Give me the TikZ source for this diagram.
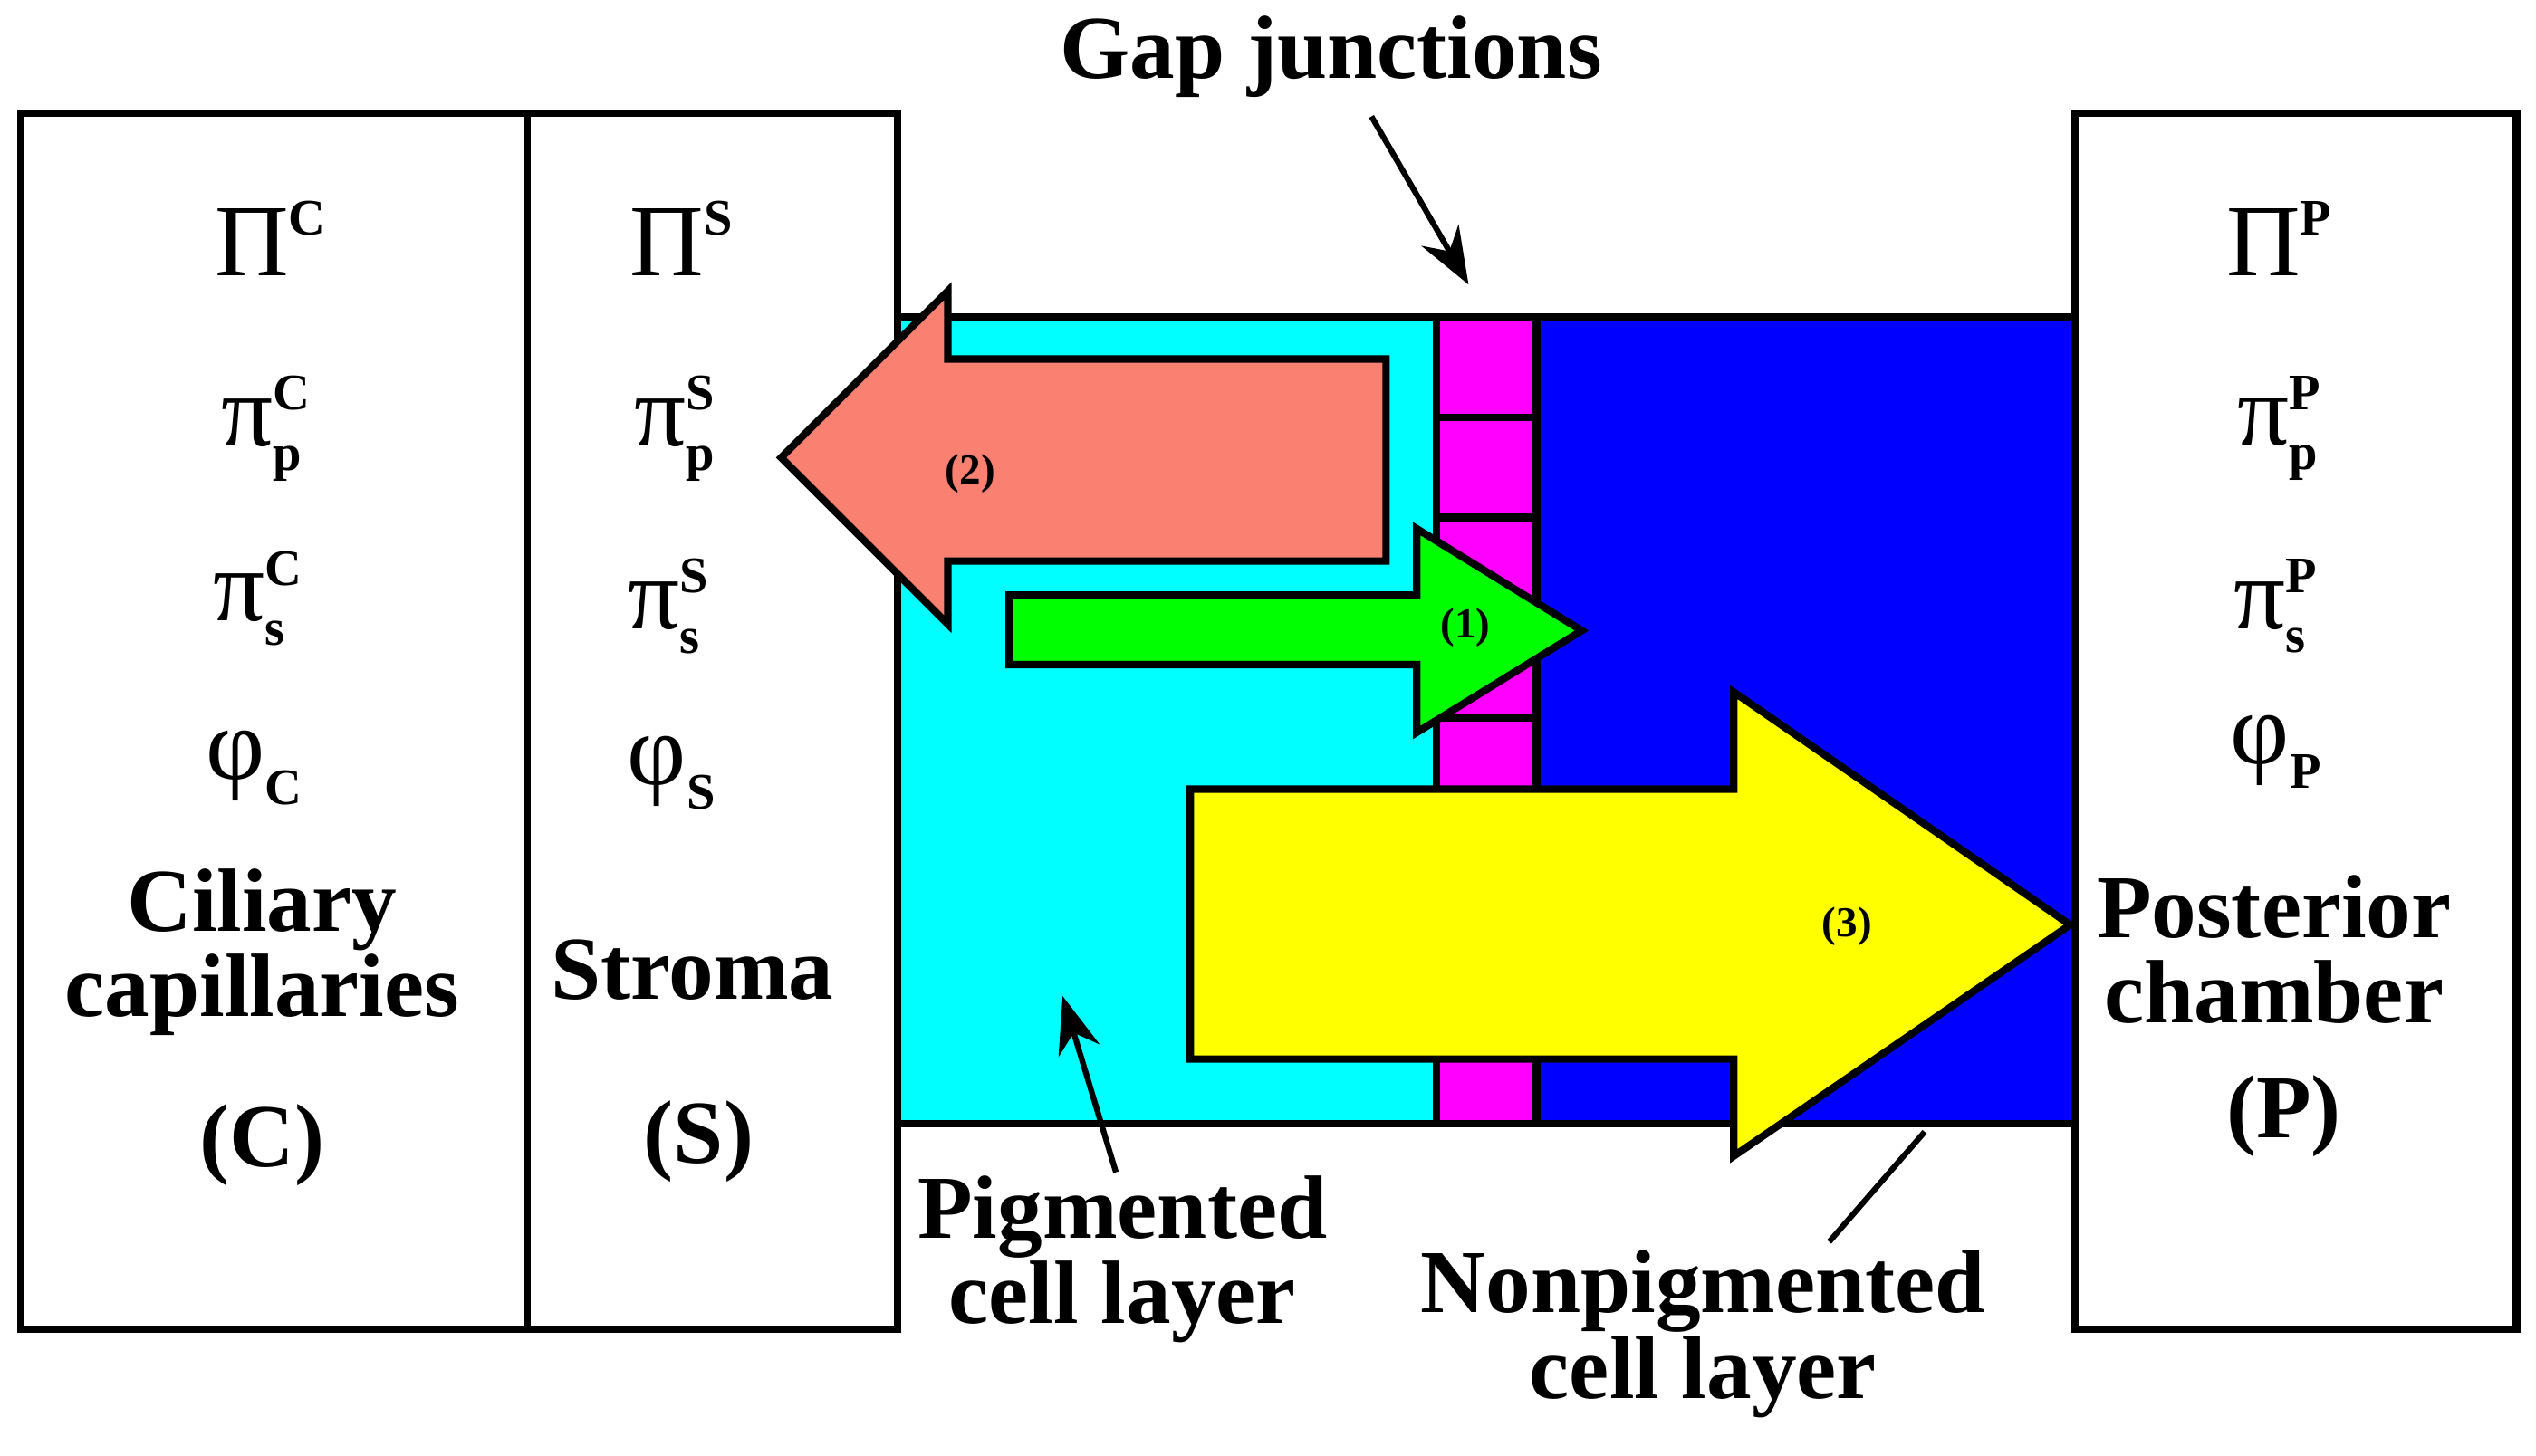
\documentclass[tikz,border=0pt]{standalone}
\usepackage{amsmath}
\usepackage{fontspec}
\setmainfont{Liberation Serif}
\usetikzlibrary{arrows.meta}
\newcommand{\sy}[3]{$\text{#1}^{\textbf{\small #2}}_{\textbf{\small #3}}$}
\begin{document}
\begin{tikzpicture}[x=0.01cm,y=-0.01cm,line width=1.3pt,
 big/.style={font=\fontsize{15.8}{17}\selectfont\bfseries,align=center},
 sym/.style={font=\fontsize{18}{20}\selectfont},
 num/.style={font=\fontsize{7.5}{9}\selectfont\bfseries}]
\useasboundingbox (0,0) rectangle (1568,900);
\definecolor{sal}{RGB}{250,128,114}
\definecolor{cy}{RGB}{0,255,255}
\definecolor{mg}{RGB}{255,0,255}
\definecolor{bl}{RGB}{0,0,255}
\definecolor{gr}{RGB}{0,255,0}
\definecolor{ye}{RGB}{255,255,0}
% boxes
\draw (13,70) rectangle (555,822);
\draw (326,70) -- (326,822);
\draw (1283,70) rectangle (1556,822);
\fill[cy] (555,196) rectangle (888,695);
\fill[mg] (888,196) rectangle (950,695);
\fill[bl] (950,196) rectangle (1283,695);
\draw (555,196) rectangle (1283,695);
\draw (888,196) -- (888,695) (950,196) -- (950,695);
\foreach \y in {258,320,382,444,506,568,630} \draw (888,\y) -- (950,\y);
% arrows
\filldraw[fill=sal] (483,283) -- (586,180) -- (586,222) -- (857,222) -- (857,347) -- (586,347) -- (586,386) -- cycle;
\filldraw[fill=gr] (624,368) -- (876,368) -- (876,327) -- (978,390) -- (876,453) -- (876,411) -- (624,411) -- cycle;
\filldraw[fill=ye] (736,488) -- (1072,488) -- (1072,428) -- (1280,572) -- (1072,715) -- (1072,655) -- (736,655) -- cycle;
\node[num] (n2) at (600,293) {(2)};
\node[num] (n1) at (906,388) {(1)};
\node[num] (n3) at (1142,573) {(3)};
% top labels
\node[big] (gap) at (823,35) {Gap junctions};
\coordinate (ga) at (908,176);
\draw[line width=1pt,-{Stealth[length=10pt]}] (848,72) -- (ga);
\node[big] (pig) at (694,779) {Pigmented\\[-2pt]cell layer};
\coordinate (pa) at (657,616);
\draw[line width=1pt,-{Stealth[length=10pt]}] (690,725) -- (pa);
\node[big] (np) at (1053,825) {Nonpigmented\\[-2pt]cell layer};
\coordinate (na) at (1190,700);
\draw[line width=1pt] (1131,768) -- (na);
% columns
\node[sym] (c1) at (168,155) {\sy{Π}{C}{}};
\node[sym] (c2) at (165,265) {\sy{π}{C}{p}};
\node[sym] (c3) at (160,370) {\sy{π}{C}{s}};
\node[sym] (c4) at (158,475) {\sy{φ}{}{C}};
\node[big] (c5) at (162,589) {Ciliary\\[-2pt]capillaries};
\node[big] (c6) at (162,708) {(C)};
\node[sym] (s1) at (422,155) {\sy{Π}{S}{}};
\node[sym] (s2) at (418,265) {\sy{π}{S}{p}};
\node[sym] (s3) at (414,375) {\sy{π}{S}{s}};
\node[sym] (s4) at (416,478) {\sy{φ}{}{S}};
\node[big] (s5) at (428,600) {Stroma};
\node[big] (s6) at (432,706) {(S)};
\node[sym] (p1) at (1410,155) {\sy{Π}{P}{}};
\node[sym] (p2) at (1410,265) {\sy{π}{P}{p}};
\node[sym] (p3) at (1408,375) {\sy{π}{P}{s}};
\node[sym] (p4) at (1408,465) {\sy{φ}{}{P}};
\node[big] (p5) at (1406,587) {Posterior\\[-2pt]chamber};
\node[big] (p6) at (1412,690) {(P)};
\end{tikzpicture}
\end{document}
